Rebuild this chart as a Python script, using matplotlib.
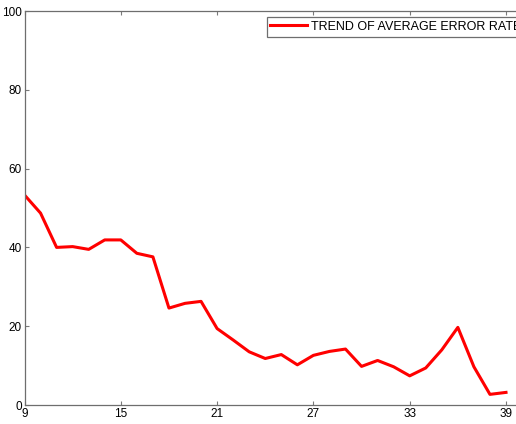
import matplotlib
matplotlib.use('Agg')
import matplotlib.pyplot as plt

# Daten
runs = list(range(9, 40))
err_rate = [53.3, 48.7, 40.0, 40.2, 39.5, 41.9, 41.9, 38.5, 37.6, 24.6,
            25.8, 26.3, 19.4, 16.5, 13.5, 11.8, 12.8, 10.2, 12.6, 13.6,
            14.2, 9.8, 11.3, 9.7, 7.4, 9.4, 14.0, 19.7, 9.7, 2.7, 3.2]
x_ticks = [9, 15, 21, 27, 33, 39]
y_ticks = [0, 20, 40, 60, 80, 100]

plt.rcParams['font.family'] = ['Liberation Sans', 'DejaVu Sans']

fig = plt.figure(figsize=(5.16, 4.24), dpi=100)
W, H = 516, 424
ax = fig.add_axes([24.5 / W, 1 - 405 / H, 31 * 16.05 / W, 394 / H])

ax.plot(runs, err_rate, color='red', linewidth=2.2, label='TREND OF AVERAGE ERROR RATE')
ax.set_xlim(9, 40)
ax.set_ylim(0, 100)
ax.set_xticks(x_ticks)
ax.set_yticks(y_ticks)
ax.tick_params(direction='in', length=3, width=0.8, color='#7a7a7a',
               top=True, right=True, labelsize=8.5, pad=2)
for s in ax.spines.values():
    s.set_color('#6e6e6e')
    s.set_linewidth(0.9)

leg = ax.legend(loc='upper left', bbox_to_anchor=(266.7 / W, 1 - 17 / H),
                bbox_transform=fig.transFigure, fontsize=9, fancybox=False,
                borderaxespad=0, framealpha=1, handlelength=2.9,
                borderpad=0.3, handletextpad=0.35)
leg.get_frame().set_edgecolor('#6e6e6e')
leg.get_frame().set_linewidth(0.9)

fig.savefig('out.png', dpi=100)
